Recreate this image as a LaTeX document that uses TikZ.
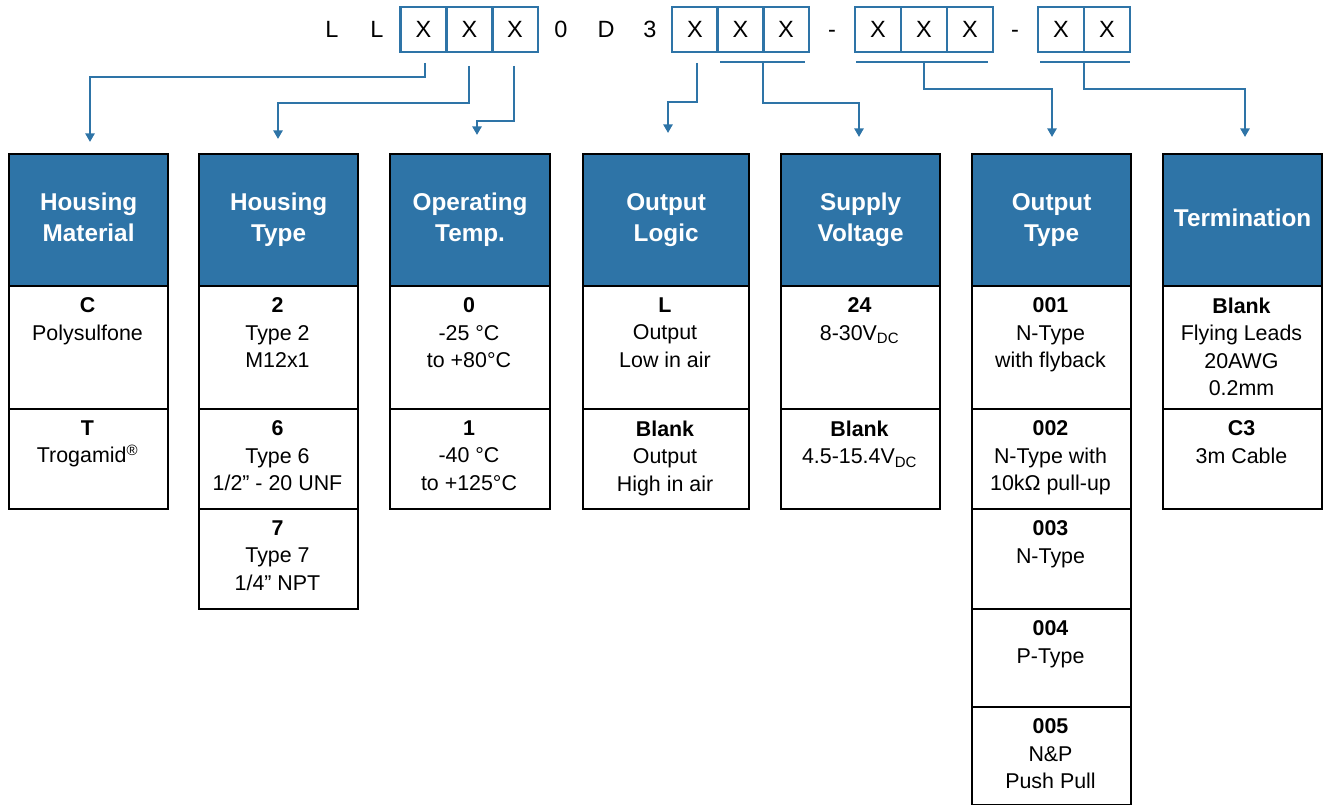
\documentclass[tikz,border=0pt]{standalone}
\usepackage{fontspec}
\setmainfont{Liberation Sans}
\usetikzlibrary{arrows.meta}
\definecolor{pblue}{RGB}{46,116,167}
\tikzset{
 hdr/.style={draw=black, line width=2.2pt, fill=pblue, text=white, font=\fontsize{24.3}{31}\selectfont\bfseries, align=center, inner sep=0, anchor=north west},
 cellbox/.style={draw=black, line width=2.2pt, inner sep=0, anchor=north west},
 celltxt/.style={anchor=north, align=center, font=\fontsize{21.4}{27.5}\selectfont, inner sep=0},
 codecell/.style={draw=pblue, line width=2.6pt, minimum width=46pt, minimum height=45pt, inner sep=0, font=\fontsize{23.5}{23.5}\selectfont},
 codechar/.style={font=\fontsize{23.5}{23.5}\selectfont, inner sep=0, anchor=base},
 conn/.style={draw=pblue, line width=2.8pt, -{Triangle[width=9pt,length=8.5pt]}},
 codebar/.style={draw=pblue, line width=2.8pt},
}
\newcommand\mycell[6]{%
 \node[cellbox, minimum width={(#3)-(#2)}, minimum height={(#5)-(#4)}] (#1) at (#2,#4) {};
 \node[celltxt] (#1t) at ({((#2)+(#3))/2},{(#4)+12.5}) {#6};}
\newcommand\myhdr[4]{%
 \node[hdr, minimum width={(#3)-(#2)}, minimum height=132pt] (#1) at (#2,153) {#4\vphantom{y}};}
\begin{document}
\begin{tikzpicture}[x=1pt,y=-1pt]
\useasboundingbox (0,0) rectangle (1325,805);
% code line
\node[codechar] (cL1) at (332,38) {L};
\node[codechar] (cL2) at (377,38) {L};
\node[codecell] (a1) at (423.5,29.5) {X};
\node[codecell] (a2) at (469.5,29.5) {X};
\node[codecell] (a3) at (515,29.5) {X};
\node[codechar] (c0) at (561,38) {0};
\node[codechar] (cD) at (606,38) {D};
\node[codechar] (c3) at (650,38) {3};
\node[codecell] (b1) at (695,29.5) {X};
\node[codecell] (b2) at (740.5,29.5) {X};
\node[codecell] (b3) at (786,29.5) {X};
\node[codechar] (d1) at (832,38) {-};
\node[codecell] (g1) at (878,29.5) {X};
\node[codecell] (g2) at (924,29.5) {X};
\node[codecell] (g3) at (970,29.5) {X};
\node[codechar] (d2) at (1015,38) {-};
\node[codecell] (t1) at (1061,29.5) {X};
\node[codecell] (t2) at (1107,29.5) {X};
% headers
\myhdr{h1}{8}{167}{Housing\\Material}
\myhdr{h2}{198}{357}{Housing\\Type}
\myhdr{h3}{389}{549}{Operating\\Temp.}
\myhdr{h4}{582}{748}{Output\\Logic}
\myhdr{h5}{780}{939}{Supply\\Voltage}
\myhdr{h6}{971}{1130}{Output\\Type}
\myhdr{h7}{1162}{1321}{Termination}
% cells
\mycell{r11}{8}{167}{285}{408}{\textbf{C}\\Polysulfone}
\mycell{r12}{8}{167}{408}{508}{\textbf{T}\\Trogamid\textsuperscript{®}}
\mycell{r21}{198}{357}{285}{408}{\textbf{2}\\Type 2\\M12x1}
\mycell{r22}{198}{357}{408}{508}{\textbf{6}\\Type 6\\1/2” - 20 UNF}
\mycell{r23}{198}{357}{508}{608}{\textbf{7}\\Type 7\\1/4” NPT}
\mycell{r31}{389}{549}{285}{408}{\textbf{0}\\-25 °C\\to +80°C}
\mycell{r32}{389}{549}{408}{508}{\textbf{1}\\-40 °C\\to +125°C}
\mycell{r41}{582}{748}{285}{408}{\textbf{L}\\Output\\Low in air}
\mycell{r42}{582}{748}{408}{508}{\textbf{Blank}\\Output\\High in air}
\mycell{r51}{780}{939}{285}{408}{\textbf{24}\\8-30V\textsubscript{DC}}
\mycell{r52}{780}{939}{408}{508}{\textbf{Blank}\\4.5-15.4V\textsubscript{DC}}
\mycell{r61}{971}{1130}{285}{408}{\textbf{001}\\N-Type\\with flyback}
\mycell{r62}{971}{1130}{408}{508}{\textbf{002}\\N-Type with\\10kΩ pull-up}
\mycell{r63}{971}{1130}{508}{608}{\textbf{003}\\N-Type}
\mycell{r64}{971}{1130}{608}{706}{\textbf{004}\\P-Type}
\mycell{r65}{971}{1130}{706}{804}{\textbf{005}\\N\&P\\Push Pull}
\mycell{r71}{1162}{1321}{285}{408}{\textbf{Blank}\\Flying Leads\\20AWG\\0.2mm}
\mycell{r72}{1162}{1321}{408}{508}{\textbf{C3}\\3m Cable}
% bars
\coordinate (bar2l) at (720,62); \coordinate (bar2r) at (805,62);
\coordinate (bar3l) at (856,62); \coordinate (bar3r) at (988,62);
\coordinate (bar4l) at (1040,62); \coordinate (bar4r) at (1130,62);
\draw[codebar] (bar2l) -- (bar2r);
\draw[codebar] (bar3l) -- (bar3r);
\draw[codebar] (bar4l) -- (bar4r);
% connectors
\coordinate (s1) at (425,63);  \coordinate (e1) at (90,142);
\coordinate (s2) at (469,66);  \coordinate (e2) at (278,139);
\coordinate (s3) at (514,66);  \coordinate (e3) at (477,135);
\coordinate (s4) at (697,63);  \coordinate (e4) at (668,133);
\coordinate (s5) at (763,62);  \coordinate (e5) at (859,137);
\coordinate (s6) at (924,62);  \coordinate (e6) at (1052,137);
\coordinate (s7) at (1084,62); \coordinate (e7) at (1245,137);
\draw[conn] (s1) -- ++(0,14) -| (e1);
\draw[conn] (s2) -- ++(0,37) -| (e2);
\draw[conn] (s3) -- ++(0,55) -| (e3);
\draw[conn] (s4) -- ++(0,39) -| (e4);
\draw[conn] (s5) -- ++(0,41) -| (e5);
\draw[conn] (s6) -- ++(0,27) -| (e6);
\draw[conn] (s7) -- ++(0,27) -| (e7);
\end{tikzpicture}
\end{document}
